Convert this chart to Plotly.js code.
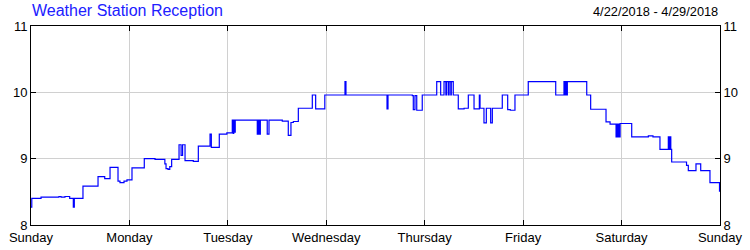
<!DOCTYPE html>
<html>
<head>
<meta charset="utf-8">
<script src="https://cdn.plot.ly/plotly-3.0.1.min.js"></script>
<style>
html,body{margin:0;padding:0;background:#fff;}
#chart{width:750px;height:250px;}
</style>
</head>
<body>
<div id="chart"></div>
<script>
// Time in days since Sunday 4/22/2018 00:00, reception level (step series)
const timeDays = [
  0, 0.008, 0.102, 0.284, 0.305, 0.345, 0.393, 0.430, 0.440, 0.528,
  0.681, 0.749, 0.803, 0.884, 0.904, 0.945, 0.975, 1.026, 1.151, 1.260,
  1.360, 1.372, 1.392, 1.410, 1.429, 1.504, 1.525, 1.540, 1.565, 1.649,
  1.700, 1.819, 1.832, 1.913, 1.990, 2.045, 2.055, 2.060, 2.070, 2.075,
  2.299, 2.309, 2.319, 2.330, 2.400, 2.418, 2.553, 2.614, 2.641, 2.665,
  2.716, 2.858, 2.892, 2.985, 3.190, 3.200, 3.617, 3.627, 3.874, 3.884,
  3.901, 3.919, 3.975, 4.122, 4.162, 4.196, 4.215, 4.222, 4.240, 4.248,
  4.265, 4.270, 4.290, 4.341, 4.400, 4.443, 4.501, 4.555, 4.562, 4.602,
  4.626, 4.670, 4.687, 4.788, 4.843, 4.870, 4.917, 5.052, 5.331, 5.415,
  5.420, 5.430, 5.440, 5.449, 5.646, 5.686, 5.842, 5.883, 5.944, 5.955,
  5.960, 5.970, 5.975, 5.985, 6.103, 6.272, 6.319, 6.390, 6.475, 6.485,
  6.490, 6.500, 6.509, 6.660, 6.678, 6.756, 6.804, 6.898, 6.995, 7.0
];
const reception = [
  8.27, 8.40, 8.42, 8.43, 8.42, 8.43, 8.40, 8.27, 8.40, 8.585,
  8.73, 8.70, 8.87, 8.66, 8.64, 8.66, 8.68, 8.86, 9.00, 8.99,
  8.92, 8.85, 8.84, 8.88, 8.99, 9.21, 9.05, 9.21, 8.97, 8.96,
  9.19, 9.37, 9.17, 9.37, 9.39, 9.58, 9.38, 9.58, 9.40, 9.58,
  9.37, 9.58, 9.37, 9.58, 9.37, 9.58, 9.565, 9.35, 9.545, 9.56,
  9.76, 9.96, 9.75, 9.96, 10.16, 9.96, 9.75, 9.96, 9.95, 9.74,
  9.95, 9.73, 9.96, 10.16, 9.96, 10.16, 9.96, 10.16, 9.96, 10.16,
  9.96, 10.16, 9.96, 9.75, 9.76, 9.96, 9.75, 9.96, 9.76, 9.54,
  9.76, 9.54, 9.76, 9.96, 9.74, 9.73, 9.96, 10.16, 9.96, 10.16,
  9.96, 10.16, 9.96, 10.16, 9.96, 9.745, 9.555, 9.52, 9.33, 9.52,
  9.33, 9.52, 9.33, 9.53, 9.33, 9.345, 9.33, 9.14, 9.33, 9.14,
  9.33, 9.14, 8.95, 8.90, 8.82, 8.92, 8.82, 8.64, 8.51, 8.51
];
const dayTickVals = [0, 1, 2, 3, 4, 5, 6, 7];
const dayTickText = ["Sunday", "Monday", "Tuesday", "Wednesday", "Thursday", "Friday", "Saturday", "Sunday"];
const levelTicks = [8, 9, 10, 11];
const chartTitle = "Weather Station Reception";
const dateRange = "4/22/2018 - 4/29/2018";

const font = "Liberation Sans, Arial, sans-serif";

const traces = [
  {
    x: timeDays, y: reception, type: "scatter", mode: "lines",
    line: {color: "#0000ff", width: 1.2, shape: "hv"},
    hoverinfo: "skip", showlegend: false
  },
  {
    x: timeDays, y: reception, type: "scatter", mode: "lines",
    yaxis: "y2", opacity: 0, line: {width: 0},
    hoverinfo: "skip", showlegend: false
  }
];

const yCommon = {
  range: [8, 11], tickvals: levelTicks, ticktext: levelTicks.map(String),
  ticks: "inside", ticklen: 5, tickcolor: "#000", tickwidth: 1,
  showline: true, linecolor: "#000", linewidth: 1,
  tickfont: {family: font, size: 13, color: "#000"},
  zeroline: false, fixedrange: true
};

const layout = {
  width: 750, height: 250,
  margin: {l: 31, r: 30, t: 26, b: 25, pad: 0},
  paper_bgcolor: "#fff", plot_bgcolor: "#fff",
  showlegend: false,
  xaxis: {
    range: [0, 7], tickvals: dayTickVals, ticktext: dayTickText,
    ticks: "inside", ticklen: 5, tickcolor: "#000", tickwidth: 1,
    showline: true, linecolor: "#000", linewidth: 1, mirror: "ticks",
    showgrid: true, gridcolor: "#d0d0d0", gridwidth: 1,
    tickfont: {family: font, size: 13, color: "#000"},
    zeroline: false, fixedrange: true
  },
  yaxis: Object.assign({}, yCommon, {
    side: "left", showgrid: true, gridcolor: "#d0d0d0", gridwidth: 1
  }),
  yaxis2: Object.assign({}, yCommon, {
    side: "right", overlaying: "y", showgrid: false, anchor: "x"
  }),
  annotations: [
    {text: chartTitle, xref: "paper", yref: "paper", x: -0.001, y: 1.0,
     xanchor: "left", yanchor: "bottom", yshift: 5, showarrow: false,
     font: {family: font, size: 16, color: "#2020ff"}},
    {text: dateRange, xref: "paper", yref: "paper", x: 1.0, y: 1.0,
     xanchor: "right", yanchor: "bottom", yshift: 5, showarrow: false,
     font: {family: font, size: 12.8, color: "#000"}}
  ]
};

Plotly.newPlot("chart", traces, layout, {displayModeBar: false, staticPlot: true});
</script>
</body>
</html>
